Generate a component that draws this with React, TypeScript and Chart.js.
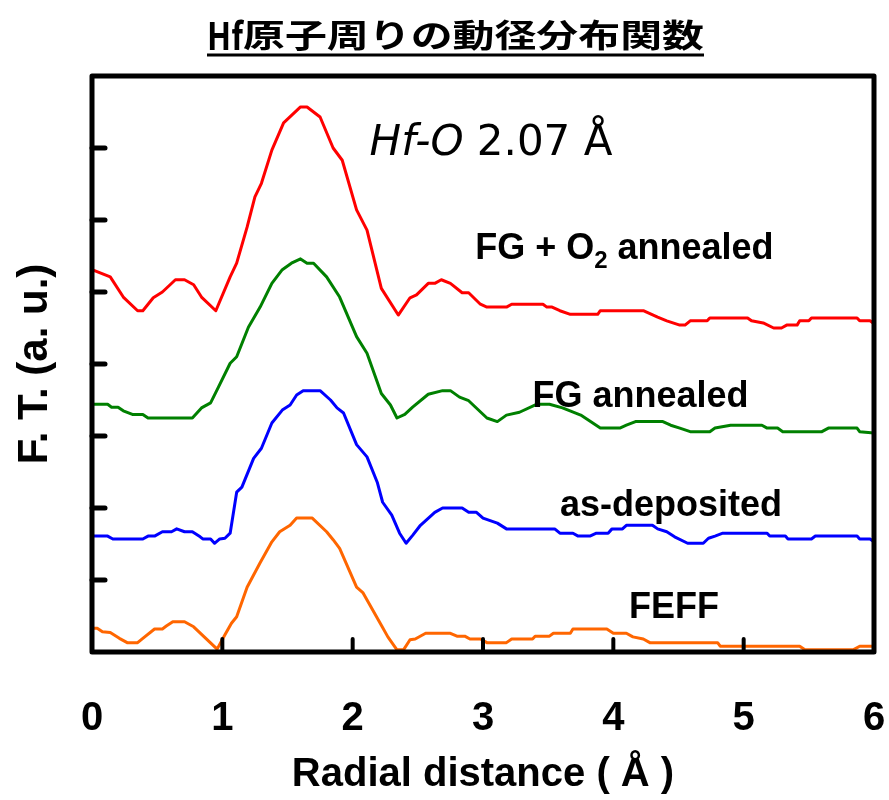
import React, { useEffect, useRef } from 'react';
import { Chart, registerables } from 'chart.js';

Chart.register(...registerables);

// ---- data (x: radial distance in Å, y: F.T. in a.u.) ----
const fgO2Annealed: [number, number][] = [
  [0, 5.31], [0.14, 5.21], [0.24, 4.93], [0.35, 4.74], [0.39, 4.74], [0.47, 4.92], [0.54, 5.0],
  [0.64, 5.17], [0.71, 5.17], [0.78, 5.1], [0.84, 4.93], [0.95, 4.74], [1.06, 5.21], [1.11, 5.4],
  [1.19, 5.9], [1.25, 6.32], [1.3, 6.51], [1.38, 6.97], [1.47, 7.35], [1.6, 7.57], [1.65, 7.57],
  [1.75, 7.43], [1.85, 7.0], [1.92, 6.83], [2.03, 6.14], [2.11, 5.86], [2.22, 5.05], [2.35, 4.68],
  [2.44, 4.92], [2.49, 4.96], [2.58, 5.12], [2.63, 5.12], [2.68, 5.17], [2.75, 5.12], [2.84, 4.99],
  [2.89, 4.99], [2.98, 4.83], [3.03, 4.79], [3.18, 4.79], [3.22, 4.83], [3.46, 4.83], [3.49, 4.79],
  [3.53, 4.79], [3.59, 4.74], [3.67, 4.69], [3.88, 4.69], [3.9, 4.74], [4.23, 4.74], [4.34, 4.65],
  [4.41, 4.6], [4.51, 4.54], [4.55, 4.54], [4.59, 4.6], [4.72, 4.6], [4.74, 4.64], [5.03, 4.64],
  [5.06, 4.6], [5.15, 4.57], [5.23, 4.5], [5.29, 4.5], [5.33, 4.54], [5.41, 4.54], [5.43, 4.6],
  [5.5, 4.6], [5.52, 4.64], [5.87, 4.64], [5.89, 4.6], [5.97, 4.6], [6.0, 4.56],
];

const fgAnnealed: [number, number][] = [
  [0, 3.44], [0.12, 3.44], [0.15, 3.4], [0.2, 3.4], [0.24, 3.35], [0.31, 3.3], [0.39, 3.3],
  [0.43, 3.25], [0.77, 3.25], [0.84, 3.39], [0.91, 3.46], [0.97, 3.68], [1.06, 4.01], [1.11, 4.1],
  [1.2, 4.51], [1.29, 4.79], [1.38, 5.12], [1.46, 5.31], [1.53, 5.4], [1.6, 5.46], [1.65, 5.4],
  [1.7, 5.4], [1.8, 5.21], [1.9, 4.93], [2.03, 4.38], [2.11, 4.15], [2.22, 3.59], [2.29, 3.43],
  [2.34, 3.25], [2.4, 3.3], [2.46, 3.4], [2.58, 3.58], [2.69, 3.63], [2.75, 3.63], [2.82, 3.54],
  [2.89, 3.49], [3.03, 3.25], [3.11, 3.2], [3.18, 3.29], [3.28, 3.33], [3.41, 3.44], [3.51, 3.44],
  [3.61, 3.39], [3.75, 3.29], [3.9, 3.11], [4.05, 3.11], [4.1, 3.15], [4.17, 3.2], [4.38, 3.2],
  [4.44, 3.15], [4.51, 3.11], [4.59, 3.06], [4.74, 3.06], [4.78, 3.11], [4.9, 3.15], [5.14, 3.15],
  [5.18, 3.11], [5.26, 3.11], [5.3, 3.06], [5.6, 3.06], [5.65, 3.11], [5.87, 3.11], [5.89, 3.06],
  [6.0, 3.04],
];

const asDeposited: [number, number][] = [
  [0, 1.61], [0.12, 1.61], [0.16, 1.57], [0.39, 1.57], [0.43, 1.61], [0.48, 1.61], [0.54, 1.67],
  [0.61, 1.67], [0.65, 1.71], [0.71, 1.67], [0.77, 1.67], [0.83, 1.6], [0.85, 1.57], [0.91, 1.57],
  [0.94, 1.51], [0.98, 1.57], [1.02, 1.58], [1.06, 1.65], [1.11, 2.22], [1.15, 2.29], [1.24, 2.69],
  [1.3, 2.83], [1.38, 3.18], [1.46, 3.36], [1.52, 3.43], [1.57, 3.57], [1.62, 3.63], [1.75, 3.63],
  [1.83, 3.5], [1.88, 3.39], [1.93, 3.32], [2.03, 2.88], [2.11, 2.71], [2.19, 2.35], [2.23, 2.08],
  [2.3, 1.9], [2.36, 1.65], [2.41, 1.51], [2.46, 1.62], [2.52, 1.76], [2.63, 1.94], [2.69, 2.0],
  [2.84, 2.0], [2.89, 1.94], [2.95, 1.94], [3.0, 1.86], [3.11, 1.79], [3.18, 1.71], [3.55, 1.71],
  [3.59, 1.65], [3.69, 1.65], [3.73, 1.61], [3.82, 1.61], [3.87, 1.65], [3.96, 1.65], [3.99, 1.71],
  [4.07, 1.71], [4.1, 1.76], [4.3, 1.76], [4.34, 1.71], [4.41, 1.67], [4.47, 1.6], [4.57, 1.51],
  [4.69, 1.51], [4.73, 1.58], [4.78, 1.61], [4.84, 1.65], [5.18, 1.65], [5.2, 1.61], [5.32, 1.61],
  [5.34, 1.57], [5.52, 1.57], [5.55, 1.61], [5.87, 1.61], [5.89, 1.57], [5.97, 1.57], [6.0, 1.53],
];

const feff: [number, number][] = [
  [0, 0.33], [0.04, 0.33], [0.08, 0.28], [0.14, 0.27], [0.21, 0.19], [0.27, 0.13], [0.35, 0.13],
  [0.39, 0.19], [0.48, 0.32], [0.54, 0.32], [0.57, 0.36], [0.62, 0.42], [0.71, 0.42], [0.78, 0.35],
  [0.96, 0.04], [1.02, 0.24], [1.07, 0.4], [1.11, 0.49], [1.19, 0.9], [1.29, 1.24], [1.38, 1.53],
  [1.44, 1.67], [1.52, 1.76], [1.57, 1.86], [1.69, 1.86], [1.8, 1.67], [1.85, 1.56], [1.9, 1.44],
  [2.03, 0.9], [2.08, 0.82], [2.22, 0.37], [2.27, 0.21], [2.34, 0.03], [2.39, 0.03], [2.44, 0.17],
  [2.48, 0.18], [2.56, 0.26], [2.75, 0.26], [2.8, 0.22], [2.86, 0.22], [2.9, 0.18], [2.98, 0.18],
  [3.03, 0.13], [3.18, 0.13], [3.22, 0.18], [3.38, 0.18], [3.4, 0.22], [3.51, 0.22], [3.54, 0.26],
  [3.67, 0.26], [3.69, 0.32], [3.95, 0.32], [4.0, 0.26], [4.1, 0.26], [4.15, 0.21], [4.23, 0.18],
  [4.28, 0.13], [4.8, 0.13], [4.82, 0.08], [5.43, 0.08], [5.47, 0.03], [5.84, 0.03], [5.89, 0.08],
  [6.0, 0.08],
];

const xTickValues = [0, 1, 2, 3, 4, 5, 6];
const xInnerTicks = [1, 2, 3, 4, 5];
const yInnerTicks = [1, 2, 3, 4, 5, 6, 7];

const titleLatin = 'Hf';
const titleCJK = '原子周りの動径分布関数';
const xTitle = 'Radial distance ( Å )';
const yTitle = 'F. T. (a. u.)';

// labels: [text, x (Å), baseline y (a.u.)]
const peakLabel = { a: 'Hf-O', b: ' 2.07 Å', x: 2.13, y: 6.9 };
const seriesLabels = [
  { pre: 'FG + O', sub: '2', post: ' annealed', x: 2.94, y: 5.46 },
  { pre: 'FG annealed', sub: '', post: '', x: 3.38, y: 3.4 },
  { pre: 'as-deposited', sub: '', post: '', x: 3.59, y: 1.89 },
  { pre: 'FEFF', sub: '', post: '', x: 4.12, y: 0.47 },
];

const SANS = '"Liberation Sans", Arial, sans-serif';

const toXY = (arr: [number, number][]) => arr.map(([x, y]) => ({ x, y }));

const decorPlugin = {
  id: 'decor',
  afterDatasetsDraw(chart: any) {
    const { ctx, scales } = chart;
    const xs = scales.x;
    const ys = scales.y;
    ctx.save();
    ctx.fillStyle = '#000';
    ctx.textBaseline = 'alphabetic';
    ctx.textAlign = 'left';
    // peak label
    let px = xs.getPixelForValue(peakLabel.x);
    const py = ys.getPixelForValue(peakLabel.y);
    ctx.font = 'italic 42px "DejaVu Sans", sans-serif';
    ctx.fillText(peakLabel.a, px, py);
    px += ctx.measureText(peakLabel.a).width;
    ctx.font = '42px "DejaVu Sans", sans-serif';
    ctx.fillText(peakLabel.b, px, py);
    // series labels
    for (const l of seriesLabels) {
      let lx = xs.getPixelForValue(l.x);
      const ly = ys.getPixelForValue(l.y);
      ctx.font = `bold 36px ${SANS}`;
      ctx.fillText(l.pre, lx, ly);
      lx += ctx.measureText(l.pre).width;
      if (l.sub) {
        ctx.font = `bold 24px ${SANS}`;
        ctx.fillText(l.sub, lx, ly + 9);
        lx += ctx.measureText(l.sub).width;
      }
      if (l.post) {
        ctx.font = `bold 36px ${SANS}`;
        ctx.fillText(l.post, lx, ly);
      }
    }
    ctx.restore();
  },
  afterDraw(chart: any) {
    const { ctx, chartArea, scales } = chart;
    const { left, right, top, bottom } = chartArea;
    ctx.save();
    ctx.strokeStyle = '#000';
    ctx.lineCap = 'round';
    // inner ticks
    ctx.lineWidth = 5;
    for (const v of yInnerTicks) {
      const y = scales.y.getPixelForValue(v);
      ctx.beginPath();
      ctx.moveTo(left, y);
      ctx.lineTo(left + 13, y);
      ctx.stroke();
    }
    ctx.lineWidth = 4;
    for (const v of xInnerTicks) {
      const x = scales.x.getPixelForValue(v);
      ctx.beginPath();
      ctx.moveTo(x, bottom);
      ctx.lineTo(x, bottom - 13);
      ctx.stroke();
    }
    // frame
    ctx.lineWidth = 5;
    ctx.lineJoin = 'round';
    ctx.strokeRect(left, top, right - left, bottom - top);
    // title
    ctx.fillStyle = '#000';
    ctx.textBaseline = 'middle';
    ctx.textAlign = 'left';
    const tLeft = 207;
    const tRight = 704;
    const tY = 35;
    ctx.font = 'bold 38px "Noto Sans CJK JP", sans-serif';
    const hfW = ctx.measureText(titleLatin).width;
    const hfTarget = 36;
    ctx.save();
    ctx.translate(tLeft, tY + 1);
    ctx.scale(hfTarget / hfW, 1);
    ctx.fillText(titleLatin, 0, 0);
    ctx.restore();
    ctx.font = 'bold 32px "Noto Sans CJK JP", sans-serif';
    const cW = ctx.measureText(titleCJK).width;
    const cTarget = tRight - tLeft - hfTarget;
    ctx.save();
    ctx.translate(tLeft + hfTarget, tY);
    ctx.scale(cTarget / cW, 1);
    ctx.fillText(titleCJK, 0, 0);
    ctx.restore();
    ctx.fillRect(tLeft, 53.5, tRight - tLeft, 3);
    ctx.restore();
  },
};

export default function App() {
  const ref = useRef<HTMLCanvasElement | null>(null);
  useEffect(() => {
    if (!ref.current) return;
    const chart = new Chart(ref.current, {
      type: 'line',
      data: {
        datasets: [
          { label: 'FG + O2 annealed', data: toXY(fgO2Annealed), borderColor: 'rgb(255,0,0)' },
          { label: 'FG annealed', data: toXY(fgAnnealed), borderColor: 'rgb(0,128,0)' },
          { label: 'as-deposited', data: toXY(asDeposited), borderColor: 'rgb(0,0,255)' },
          { label: 'FEFF', data: toXY(feff), borderColor: 'rgb(255,102,0)' },
        ].map((d) => ({
          ...d,
          borderWidth: 3,
          pointRadius: 0,
          tension: 0,
          fill: false,
          borderJoinStyle: 'round' as const,
        })),
      },
      options: {
        responsive: false,
        animation: false,
        devicePixelRatio: 1,
        layout: { padding: { top: 76, right: 15, left: 0, bottom: 0 } },
        plugins: { legend: { display: false }, tooltip: { enabled: false }, title: { display: false } },
        scales: {
          x: {
            type: 'linear',
            min: 0,
            max: 6,
            afterBuildTicks: (s: any) => {
              s.ticks = xTickValues.map((v) => ({ value: v }));
            },
            afterFit: (s: any) => {
              s.height = 148;
              s.paddingLeft = 0;
              s.paddingRight = 0;
            },
            grid: { display: false, drawTicks: false },
            border: { display: false },
            ticks: {
              color: '#000',
              padding: 43,
              maxRotation: 0,
              font: { family: SANS, size: 40, weight: 'bold' },
              callback: (v: any) => String(v),
            },
            title: {
              display: true,
              text: xTitle,
              color: '#000',
              font: { family: SANS, size: 40, weight: 'bold' },
              padding: { top: 0, bottom: 1 },
            },
          },
          y: {
            type: 'linear',
            min: 0,
            max: 8,
            afterFit: (s: any) => {
              s.width = 92;
              s.paddingTop = 0;
              s.paddingBottom = 0;
            },
            grid: { display: false, drawTicks: false },
            border: { display: false },
            ticks: { display: false },
            title: {
              display: true,
              text: yTitle,
              color: '#000',
              font: { family: SANS, size: 42, weight: 'bold' },
              padding: { top: 10, bottom: 0 },
            },
          },
        },
      },
      plugins: [decorPlugin],
    });
    return () => chart.destroy();
  }, []);
  return (
    <div style={{ position: 'fixed', left: 0, top: 0, width: 889, height: 800, background: '#fff' }}>
      <canvas ref={ref} width={889} height={800} style={{ display: 'block' }} />
    </div>
  );
}
